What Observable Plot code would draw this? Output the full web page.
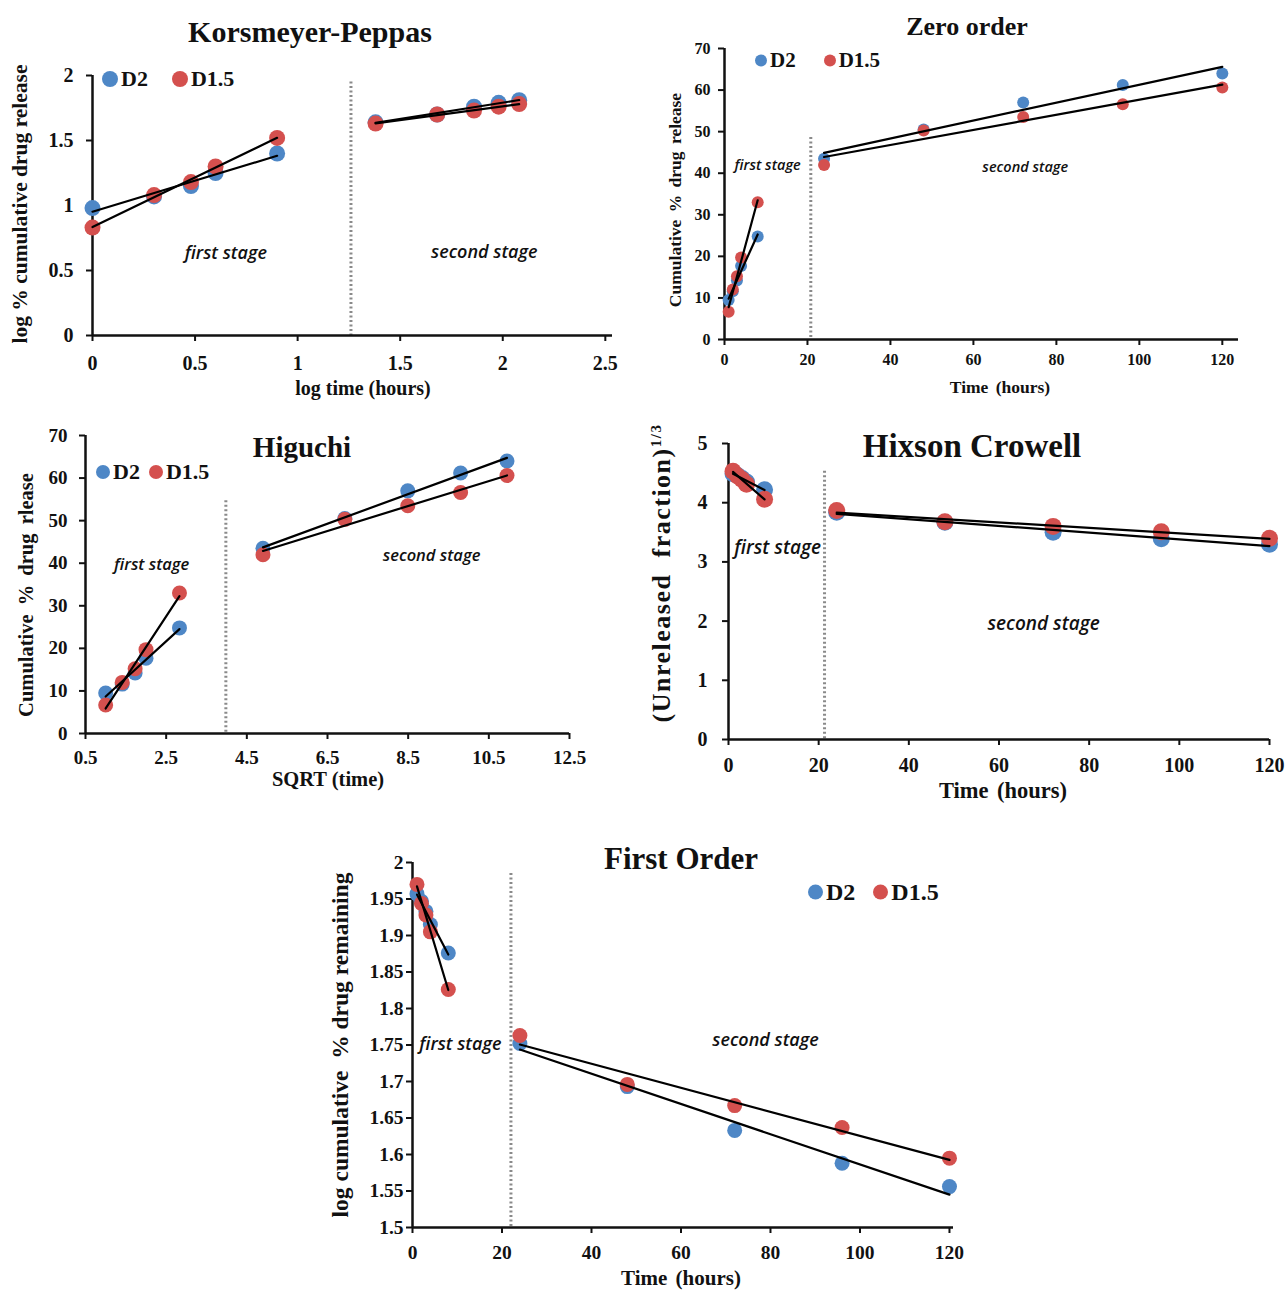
<!DOCTYPE html>
<html><head><meta charset="utf-8">
<script src="https://cdn.jsdelivr.net/npm/d3@7"></script>
<script src="https://cdn.jsdelivr.net/npm/@observablehq/plot@0.6"></script>
<style>
body{margin:0;background:#fff;}
#root{position:relative;width:1287px;height:1290px;overflow:hidden;font-family:"Liberation Serif",serif;background:#fff;}
.lbl{position:absolute;white-space:nowrap;font-weight:bold;color:#111;line-height:1;}
.plot{position:absolute;}
.leg{position:absolute;display:flex;align-items:center;font-family:"Liberation Serif",serif;font-weight:bold;color:#111;white-space:nowrap;transform:translateY(-50%);}
.leg span.d{display:inline-block;border-radius:50%;}
</style></head><body><div id="root"></div>
<script>
// ---------- data ----------
const hours    = [1, 2, 3, 4, 8, 24, 48, 72, 96, 120];
const stageOf  = ["first","first","first","first","first","second","second","second","second","second"];
const logTime  = [0, 0.30, 0.48, 0.60, 0.90, 1.38, 1.68, 1.86, 1.98, 2.08];
const sqrtTime = [1.00, 1.41, 1.73, 2.00, 2.83, 4.90, 6.93, 8.49, 9.80, 10.95];
const seriesNames = ["D2", "D1.5"];

// Korsmeyer-Peppas: log % cumulative drug release
const kpD2  = [0.98, 1.07, 1.15, 1.25, 1.40, 1.64, 1.70, 1.76, 1.79, 1.81];
const kpD15 = [0.83, 1.08, 1.18, 1.30, 1.52, 1.63, 1.70, 1.73, 1.76, 1.78];
// Zero order: cumulative % drug release
const zeroD2  = [9.5, 11.6, 14.2, 17.7, 24.8, 43.5, 50.5, 57.0, 61.2, 64.0];
const zeroD15 = [6.7, 12.0, 15.2, 19.7, 33.0, 42.0, 50.3, 53.5, 56.6, 60.6];
// Higuchi: cumulative % drug release vs sqrt(time)
const higD2  = [9.5, 11.6, 14.2, 17.7, 24.8, 43.5, 50.5, 57.0, 61.2, 64.0];
const higD15 = [6.7, 12.0, 15.2, 19.7, 33.0, 42.0, 50.3, 53.5, 56.6, 60.6];
// Hixson Crowell: (unreleased fraction)^1/3
const hixD2  = [4.49, 4.46, 4.41, 4.35, 4.22, 3.84, 3.67, 3.50, 3.39, 3.30];
const hixD15 = [4.53, 4.45, 4.39, 4.31, 4.06, 3.87, 3.68, 3.60, 3.51, 3.40];
// First order: log cumulative % drug remaining
const firstD2  = [1.957, 1.947, 1.933, 1.915, 1.876, 1.752, 1.693, 1.633, 1.588, 1.556];
const firstD15 = [1.970, 1.944, 1.928, 1.905, 1.826, 1.763, 1.696, 1.667, 1.637, 1.595];

// tick labels
const kpXTicks = [0, 0.5, 1, 1.5, 2, 2.5];
const kpYTicks = [0, 0.5, 1, 1.5, 2];
const timeTicks = [0, 20, 40, 60, 80, 100, 120];
const zeroYTicks = [0, 10, 20, 30, 40, 50, 60, 70];
const higXTicks = [0.5, 2.5, 4.5, 6.5, 8.5, 10.5, 12.5];
const hixYTicks = [0, 1, 2, 3, 4, 5];
const firstYTicks = [1.5, 1.55, 1.6, 1.65, 1.7, 1.75, 1.8, 1.85, 1.9, 1.95, 2];

const BLUE = "#4E87C6", RED = "#D4504E";
const root = document.getElementById("root");

function label(html, cx, cy, size, opts = {}) {
  const d = document.createElement("div");
  d.className = "lbl";
  d.innerHTML = html;
  d.style.left = cx + "px";
  d.style.top = cy + "px";
  d.style.fontSize = size + "px";
  d.style.transform = "translate(-50%,-50%)" + (opts.rotate ? " rotate(-90deg)" : "");
  if (opts.spacing) d.style.wordSpacing = opts.spacing + "px";
  if (opts.letter) d.style.letterSpacing = opts.letter + "px";
  root.appendChild(d);
}

function legend(left, cy, size, r, gap1) {
  const d = document.createElement("div");
  d.className = "leg";
  d.style.left = left + "px";
  d.style.top = cy + "px";
  d.style.fontSize = size + "px";
  d.innerHTML =
    `<span class="d" style="width:${2*r}px;height:${2*r}px;background:${BLUE};margin-right:3px"></span>${seriesNames[0]}` +
    `<span class="d" style="width:${2*r}px;height:${2*r}px;background:${RED};margin-left:${gap1}px;margin-right:3px"></span>${seriesNames[1]}`;
  root.appendChild(d);
}

function panel(c) {
  const rows = [];
  c.x.forEach((xv, i) => rows.push({x: xv, y: c.d2[i], s: "D2", stage: stageOf[i]}));
  c.x.forEach((xv, i) => rows.push({x: xv, y: c.d15[i], s: "D1.5", stage: stageOf[i]}));
  const fmt = d => String(d);
  const p = Plot.plot({
    width: c.width, height: c.height,
    marginLeft: c.px[0] - c.left, marginRight: c.left + c.width - c.px[1],
    marginTop: c.py[1] - c.top, marginBottom: c.top + c.height - c.py[0],
    x: {domain: c.xDomain}, y: {domain: c.yDomain},
    style: {fontFamily: "Liberation Serif", fontSize: c.tickSize + "px", fontWeight: "bold", color: "#111", background: "transparent", overflow: "visible"},
    marks: [
      Plot.ruleX([c.divider[0]], {y1: c.divider[1], y2: c.yDomain[0], stroke: "#8a8a8a", strokeWidth: 3, strokeDasharray: "2,2.5"}),
      Plot.axisX({ticks: c.xTicks, tickFormat: fmt, tickSize: 6, tickPadding: c.padX, strokeWidth: 2, label: null}),
      Plot.axisY({ticks: c.yTicks, tickFormat: fmt, tickSize: 6, tickPadding: c.padY, strokeWidth: 2, label: null}),
      Plot.ruleY([c.yDomain[0]], {strokeWidth: 2.5, stroke: "#111"}),
      Plot.ruleX([c.xDomain[0]], {strokeWidth: 2.5, stroke: "#111"}),
      Plot.dot(rows.filter(d => d.s === "D2"), {x: "x", y: "y", r: c.r, fill: BLUE}),
      Plot.dot(rows.filter(d => d.s === "D1.5"), {x: "x", y: "y", r: c.r, fill: RED}),
      Plot.linearRegressionY(rows, {x: "x", y: "y", z: d => d.s + d.stage, ci: 0, stroke: "#000", strokeWidth: 2.2}),
      Plot.text(c.stages, {x: "x", y: "y", text: "t", fontStyle: "italic", fontFamily: "Open Sans", fontWeight: 600, fontSize: c.stageSize, fill: "#111"})
    ]
  });
  p.classList.add("plot");
  p.style.left = c.left + "px";
  p.style.top = c.top + "px";
  root.appendChild(p);
}

// ---------- Korsmeyer-Peppas ----------
panel({left: 0, top: 60, width: 640, height: 345, px: [92, 612], py: [335, 75],
  xDomain: [0, 2.535], yDomain: [0, 2], xTicks: kpXTicks, yTicks: kpYTicks,
  x: logTime, d2: kpD2, d15: kpD15, r: 8, tickSize: 20, padX: 14, padY: 13, divider: [1.26, 1.95],
  stageSize: 18, stages: [{x: 0.65, y: 0.63, t: "first stage"}, {x: 1.91, y: 0.64, t: "second stage"}]});
label("Korsmeyer-Peppas", 310, 32, 30);
legend(102, 79, 22, 8, 24);
label("log % cumulative drug release", 21, 204, 21.5, {rotate: true});
label("log time (hours)", 363, 388, 20);

// ---------- Zero order ----------
panel({left: 640, top: 40, width: 647, height: 370, px: [724, 1238], py: [339, 48],
  xDomain: [0, 123.9], yDomain: [0, 70], xTicks: timeTicks, yTicks: zeroYTicks,
  x: hours, d2: zeroD2, d15: zeroD15, r: 6, tickSize: 16, padX: 8, padY: 8, divider: [20.8, 48.6],
  stageSize: 14.5, stages: [{x: 10.4, y: 41.9, t: "first stage"}, {x: 72.5, y: 41.4, t: "second stage"}]});
label("Zero order", 967, 27, 26);
legend(755, 60, 21, 6, 28);
label("Cumulative % drug release", 676, 200, 17.5, {rotate: true, spacing: 3});
label("Time (hours)", 1000, 388, 17.5, {spacing: 3});

// ---------- Higuchi ----------
panel({left: 0, top: 425, width: 640, height: 380, px: [85, 569], py: [733, 435],
  xDomain: [0.5, 12.5], yDomain: [0, 70], xTicks: higXTicks, yTicks: zeroYTicks,
  x: sqrtTime, d2: higD2, d15: higD15, r: 7.5, tickSize: 19, padX: 11, padY: 12, divider: [3.98, 54.7],
  stageSize: 16.5, stages: [{x: 2.14, y: 39.7, t: "first stage"}, {x: 9.08, y: 41.8, t: "second stage"}]});
label("Higuchi", 302, 447, 29);
legend(96, 472, 22, 7, 9);
label("Cumulative % drug rlease", 26, 595, 20.5, {rotate: true, spacing: 4});
label("SQRT (time)", 328, 779, 20.5);

// ---------- Hixson Crowell ----------
panel({left: 640, top: 430, width: 647, height: 380, px: [728, 1269], py: [739, 443],
  xDomain: [0, 120], yDomain: [0, 5], xTicks: timeTicks, yTicks: hixYTicks,
  x: hours, d2: hixD2, d15: hixD15, r: 8.5, tickSize: 20, padX: 12, padY: 15, divider: [21.3, 4.53],
  stageSize: 19, stages: [{x: 10.9, y: 3.23, t: "first stage"}, {x: 69.9, y: 1.95, t: "second stage"}]});
label("Hixson Crowell", 972, 446, 33);
label("(Unreleased&nbsp;&nbsp;fraction)<sup style='font-size:15px'>1/3</sup>", 662, 573, 26, {rotate: true, letter: 1.5});
label("Time (hours)", 1003, 791, 22.5, {spacing: 3});

// ---------- First Order ----------
panel({left: 320, top: 845, width: 660, height: 445, px: [412, 953], py: [1227, 862],
  xDomain: [0, 120.9], yDomain: [1.5, 2], xTicks: timeTicks, yTicks: firstYTicks,
  x: hours, d2: firstD2, d15: firstD15, r: 7.5, tickSize: 19.5, padX: 12, padY: 3, divider: [22, 1.985],
  stageSize: 18, stages: [{x: 10.7, y: 1.751, t: "first stage"}, {x: 78.9, y: 1.756, t: "second stage"}]});
label("First Order", 681, 858, 31);
legend(808, 892, 24, 7.5, 18);
label("log cumulative&nbsp; % drug remaining", 341, 1045, 23.5, {rotate: true});
label("Time (hours)", 681, 1278, 21, {spacing: 3});
</script>
</body></html>
